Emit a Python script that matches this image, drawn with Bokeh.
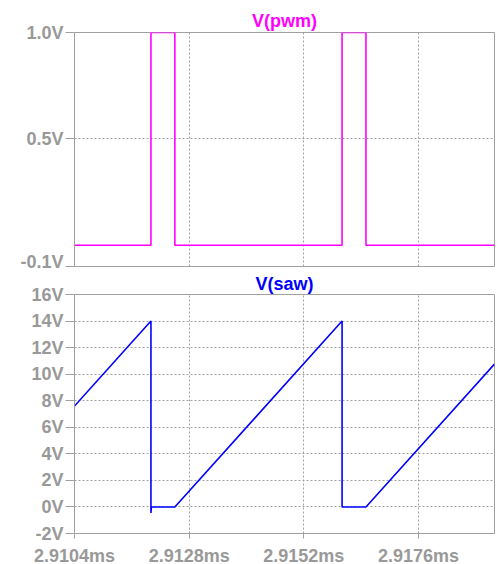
from bokeh.plotting import figure
from bokeh.layouts import column
from bokeh.models import FixedTicker, PrintfTickFormatter, Range1d
from bokeh.embed import file_html
from bokeh.resources import INLINE

# ---- data (time in ms) ----
pwm_t = [2.9104, 2.9120, 2.9120, 2.9125, 2.9125, 2.9160, 2.9160, 2.9165, 2.9165, 2.91919]
pwm_v = [0.0, 0.0, 1.0, 1.0, 0.0, 0.0, 1.0, 1.0, 0.0, 0.0]

saw_t = [2.9104, 2.9120, 2.9120, 2.91201, 2.9125, 2.9160, 2.9160, 2.9165, 2.91919]
saw_v = [7.6, 14.0, -0.45, 0.0, 0.0, 14.0, 0.0, 0.0, 10.76]

x_ticks = [2.9104, 2.9128, 2.9152, 2.9176]
pwm_ticks = [-0.1, 0.5, 1.0]
saw_ticks = [-2, 0, 2, 4, 6, 8, 10, 12, 14, 16]

x_start, x_end = 2.9104, 2.91919

GRAY = "#a0a0a0"
LABEL = "#999999"
FONT = "Liberation Sans"

xr = Range1d(x_start, x_end)


def style(p, yticks, yfmt, title_color, standoff):
    p.title.align = "center"
    p.title.text_color = title_color
    p.title.text_font = FONT
    p.title.text_font_size = "18px"
    p.title.text_font_style = "bold"
    p.title.standoff = standoff
    p.title.offset = 0
    p.outline_line_color = GRAY
    p.outline_line_width = 1
    p.yaxis.ticker = FixedTicker(ticks=yticks)
    p.yaxis.formatter = PrintfTickFormatter(format=yfmt)
    p.yaxis.major_label_text_font = FONT
    p.yaxis.major_label_text_font_size = "18px"
    p.yaxis.major_label_text_font_style = "bold"
    p.yaxis.major_label_text_color = LABEL
    p.yaxis.axis_line_color = GRAY
    p.yaxis.major_tick_line_color = GRAY
    p.yaxis.major_tick_in = 0
    p.yaxis.major_tick_out = 9
    p.yaxis.major_label_standoff = 2
    p.yaxis.minor_tick_line_color = None
    p.ygrid.ticker = FixedTicker(ticks=yticks)
    p.xgrid.ticker = FixedTicker(ticks=x_ticks)
    for g in (p.xgrid, p.ygrid):
        g.grid_line_color = GRAY
        g.grid_line_dash = "2 2"
        g.grid_line_width = 1


p1 = figure(frame_width=420, frame_height=234, x_range=xr, y_range=Range1d(-0.1, 1.0),
            output_backend="svg", toolbar_location=None, title="V(pwm)",
            min_border_left=74, min_border_right=7, min_border_top=32, min_border_bottom=5)
style(p1, pwm_ticks, "%.1fV", "#ff00ff", 3)
p1.xaxis.visible = False
p1.line(pwm_t, pwm_v, line_color="#ff00ff", line_width=1.6)

p2 = figure(frame_width=420, frame_height=239, x_range=xr, y_range=Range1d(-2, 16),
            output_backend="svg", toolbar_location=None, title="V(saw)",
            min_border_left=74, min_border_right=7, min_border_top=22, min_border_bottom=32)
style(p2, saw_ticks, "%dV", "#0000ff", 1)
p2.xaxis.ticker = FixedTicker(ticks=x_ticks)
p2.xaxis.formatter = PrintfTickFormatter(format="%.4fms")
p2.xaxis.major_label_text_font = FONT
p2.xaxis.major_label_text_font_size = "18px"
p2.xaxis.major_label_text_font_style = "bold"
p2.xaxis.major_label_text_color = LABEL
p2.xaxis.axis_line_color = GRAY
p2.xaxis.major_tick_line_color = GRAY
p2.xaxis.major_tick_in = 0
p2.xaxis.major_tick_out = 5
p2.xaxis.major_label_standoff = 7
p2.xaxis.minor_tick_line_color = None
p2.line(saw_t, saw_v, line_color="#0000ff", line_width=1.6)

layout = column(p1, p2, spacing=0)
open("out.html", "w").write(file_html(layout, INLINE))
